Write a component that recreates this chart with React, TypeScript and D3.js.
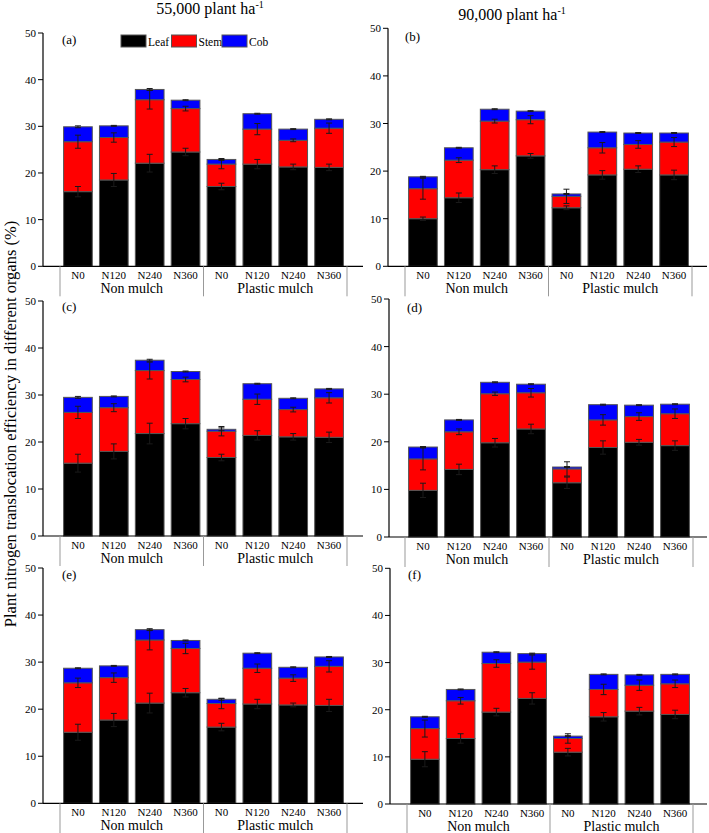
import React from "react";
import * as d3 from "d3";

// ---------- data ----------
const categories = ["N0", "N120", "N240", "N360", "N0", "N120", "N240", "N360"];
const groups = ["Non mulch", "Plastic mulch"];
const seriesNames = ["Leaf", "Stem", "Cob"];
const yTicks = [0, 10, 20, 30, 40, 50];
const panelLabels = ["(a)", "(b)", "(c)", "(d)", "(e)", "(f)"];
const columnTitles = ["55,000 plant ha", "90,000 plant ha"];

// (a) 55,000 – top row
const leafA = [16.0, 18.5, 22.1, 24.5, 17.1, 21.9, 21.3, 21.2];
const stemA = [10.7, 9.1, 13.6, 9.3, 4.8, 7.5, 5.7, 8.4];
const cobA = [3.2, 2.5, 2.2, 1.8, 1.0, 3.3, 2.4, 1.9];
const leafErrA = [1.1, 1.4, 1.9, 0.8, 0.7, 1.0, 0.6, 0.7];
const stemErrA = [1.4, 1.0, 2.0, 0.5, 1.0, 1.2, 0.3, 1.1];
const cobErrA = [0.2, 0.1, 0.2, 0.1, 0.2, 0.1, 0.1, 0.1];

// (b) 90,000 – top row
const leafB = [10.0, 14.4, 20.3, 23.2, 12.3, 19.2, 20.4, 19.2];
const stemB = [6.3, 7.9, 10.2, 7.6, 2.4, 5.7, 5.2, 6.9];
const cobB = [2.5, 2.6, 2.5, 1.8, 0.5, 3.3, 2.4, 1.9];
const leafErrB = [0.35, 1.0, 0.8, 0.5, 0.4, 0.9, 0.7, 1.0];
const stemErrB = [2.2, 0.5, 0.4, 0.85, 1.5, 1.1, 0.8, 0.95];
const cobErrB = [0.1, 0.1, 0.1, 0.1, 0.1, 0.1, 0.1, 0.1];

// (c)
const leafC = [15.5, 18.0, 21.8, 23.9, 16.7, 21.4, 21.1, 21.0];
const stemC = [10.8, 9.3, 13.4, 9.4, 5.6, 7.7, 5.8, 8.4];
const cobC = [3.2, 2.4, 2.2, 1.7, 0.4, 3.3, 2.4, 1.9];
const leafErrC = [1.9, 1.6, 2.2, 1.1, 0.7, 1.0, 0.7, 1.1];
const stemErrC = [1.3, 0.85, 1.8, 0.5, 1.0, 1.1, 0.5, 1.1];
const cobErrC = [0.2, 0.1, 0.2, 0.1, 0.3, 0.1, 0.1, 0.1];

// (d)
const leafD = [9.8, 14.2, 19.8, 22.7, 11.4, 18.8, 19.9, 19.2];
const stemD = [6.6, 7.9, 10.3, 7.6, 2.9, 5.8, 5.4, 6.7];
const cobD = [2.5, 2.5, 2.4, 1.8, 0.4, 3.2, 2.4, 2.0];
const leafErrD = [1.5, 1.1, 0.9, 1.0, 1.2, 1.4, 0.6, 1.0];
const stemErrD = [2.3, 0.6, 0.35, 0.9, 1.5, 1.1, 0.8, 1.0];
const cobErrD = [0.1, 0.1, 0.1, 0.1, 0.1, 0.1, 0.1, 0.1];

// (e)
const leafE = [15.1, 17.7, 21.3, 23.5, 16.2, 21.1, 20.9, 20.8];
const stemE = [10.5, 9.0, 13.4, 9.4, 5.0, 7.6, 5.7, 8.3];
const cobE = [3.1, 2.5, 2.2, 1.7, 0.9, 3.2, 2.3, 2.0];
const leafErrE = [1.7, 1.4, 2.1, 0.9, 0.8, 1.0, 0.4, 1.3];
const stemErrE = [1.0, 1.0, 2.1, 1.1, 1.1, 0.9, 0.7, 1.2];
const cobErrE = [0.1, 0.1, 0.2, 0.1, 0.2, 0.1, 0.1, 0.1];

// (f)
const leafF = [9.5, 13.9, 19.5, 22.4, 11.0, 18.5, 19.7, 19.0];
const stemF = [6.5, 8.0, 10.3, 7.7, 2.9, 5.8, 5.5, 6.5];
const cobF = [2.5, 2.4, 2.4, 1.8, 0.5, 3.2, 2.2, 2.0];
const leafErrF = [1.6, 1.0, 0.8, 1.2, 0.8, 0.9, 0.8, 0.9];
const stemErrF = [1.8, 0.7, 0.8, 1.5, 1.0, 1.1, 1.1, 0.8];
const cobErrF = [0.1, 0.1, 0.1, 0.1, 0.1, 0.1, 0.1, 0.1];

const panelValues = [
  { values: [leafA, stemA, cobA], errors: [leafErrA, stemErrA, cobErrA] },
  { values: [leafB, stemB, cobB], errors: [leafErrB, stemErrB, cobErrB] },
  { values: [leafC, stemC, cobC], errors: [leafErrC, stemErrC, cobErrC] },
  { values: [leafD, stemD, cobD], errors: [leafErrD, stemErrD, cobErrD] },
  { values: [leafE, stemE, cobE], errors: [leafErrE, stemErrE, cobErrE] },
  { values: [leafF, stemF, cobF], errors: [leafErrF, stemErrF, cobErrF] },
];

// ---------- layout & style ----------
const W = 709;
const H = 833;
const FONT = "'Liberation Serif', 'Times New Roman', serif";
const colors = ["#000000", "#ff0000", "#0000ff"];

const layouts = [
  { axisX: 43, yTop: 33, y0: 266.3, bandL: 60, bandR: 347, axisEnd: 363, lx: 62, ly: 44 },
  { axisX: 388, yTop: 28.3, y0: 266.3, bandL: 405, bandR: 692, axisEnd: 707, lx: 405, ly: 41 },
  { axisX: 43, yTop: 301, y0: 536, bandL: 60, bandR: 347, axisEnd: 363, lx: 62, ly: 311 },
  { axisX: 389, yTop: 299, y0: 537, bandL: 405, bandR: 693, axisEnd: 707, lx: 407, ly: 312 },
  { axisX: 43, yTop: 568, y0: 803.3, bandL: 60, bandR: 347, axisEnd: 363, lx: 62, ly: 579 },
  { axisX: 390, yTop: 568.3, y0: 804, bandL: 407, bandR: 693, axisEnd: 707, lx: 408, ly: 579 },
];

function Panel({ idx }: { idx: number }) {
  const L = layouts[idx];
  const P = panelValues[idx];
  const y = d3.scaleLinear().domain([0, 50]).range([L.y0, L.yTop]);
  const x = d3
    .scaleBand<number>()
    .domain(d3.range(categories.length))
    .range([L.bandL, L.bandR])
    .paddingInner(0.2)
    .paddingOuter(0.1);

  const rows = categories.map((_, i) => {
    const r: any = { i };
    seriesNames.forEach((s, k) => (r[s] = P.values[k][i]));
    return r;
  });
  const stacked = d3.stack().keys(seriesNames)(rows);
  const half = (L.bandR - L.bandL) / 2;
  const sepXs = [L.bandL, L.bandL + half, L.bandR];

  return (
    <g>
      {stacked.map((layer, k) => (
        <g key={k}>
          {layer.map((d, i) => (
            <rect
              key={i}
              x={x(i)}
              width={x.bandwidth()}
              y={y(d[1])}
              height={y(d[0]) - y(d[1])}
              fill={colors[k]}
              stroke="#555"
              strokeWidth={1}
            />
          ))}
        </g>
      ))}
      {stacked.map((layer, k) => (
        <g key={"e" + k} stroke="#1a1a1a" strokeWidth={1}>
          {layer.map((d, i) => {
            const cx = (x(i) as number) + x.bandwidth() / 2;
            const e = P.errors[k][i];
            const t = y(d[1] + e);
            const b = y(d[1] - e);
            return (
              <g key={i}>
                <line x1={cx} x2={cx} y1={t} y2={b} />
                <line x1={cx - 3} x2={cx + 3} y1={t} y2={t} />
                <line x1={cx - 3} x2={cx + 3} y1={b} y2={b} />
              </g>
            );
          })}
        </g>
      ))}
      <line x1={L.axisX} x2={L.axisX} y1={L.y0} y2={L.yTop} stroke="#000" strokeWidth={1.2} />
      {yTicks.map((t) => (
        <g key={t}>
          <line x1={L.axisX - 5} x2={L.axisX} y1={y(t)} y2={y(t)} stroke="#000" strokeWidth={1} />
          <text
            x={L.axisX - 7}
            y={y(t) + 4}
            textAnchor="end"
            fontSize={11}
            fontFamily={FONT}
            fill="#000"
          >
            {t}
          </text>
        </g>
      ))}
      <line x1={L.axisX} x2={L.axisEnd} y1={L.y0} y2={L.y0} stroke="#000" strokeWidth={1.2} />
      {sepXs.map((sx, i) => (
        <line key={i} x1={sx} x2={sx} y1={L.y0} y2={L.y0 + 30} stroke="#999" strokeWidth={1} />
      ))}
      {categories.map((c, i) => (
        <text
          key={i}
          x={(x(i) as number) + x.bandwidth() / 2}
          y={L.y0 + 13}
          textAnchor="middle"
          fontSize={11}
          fontFamily={FONT}
          fill="#000"
        >
          {c}
        </text>
      ))}
      {groups.map((g, i) => (
        <text
          key={g}
          x={L.bandL + half * i + half / 2}
          y={L.y0 + 27}
          textAnchor="middle"
          fontSize={14}
          fontFamily={FONT}
          fill="#000"
        >
          {g}
        </text>
      ))}
      <text x={L.lx} y={L.ly} fontSize={13} fontFamily={FONT} fill="#000">
        {panelLabels[idx]}
      </text>
      {idx === 0 &&
        seriesNames.map((s, k) => (
          <g key={s} transform={`translate(${121 + k * 50.5},35)`}>
            <rect width={25} height={12} fill={colors[k]} stroke="#555" strokeWidth={1} />
            <text x={27} y={10.5} fontSize={11.5} fontFamily={FONT} fill="#000">
              {s}
            </text>
          </g>
        ))}
    </g>
  );
}

export default function App() {
  return (
    <svg
      width={W}
      height={H}
      style={{ position: "absolute", left: 0, top: 0, background: "#fff" }}
    >
      <rect width={W} height={H} fill="#fff" />
      <text x={210} y={14} textAnchor="middle" fontSize={16} fontFamily={FONT} fill="#000">
        {columnTitles[0]}
        <tspan dy={-6} fontSize={10}>-1</tspan>
      </text>
      <text x={512} y={20} textAnchor="middle" fontSize={16} fontFamily={FONT} fill="#000">
        {columnTitles[1]}
        <tspan dy={-6} fontSize={10}>-1</tspan>
      </text>
      <text
        transform="translate(16,424) rotate(-90)"
        textAnchor="middle"
        fontSize={16.5}
        fontFamily={FONT}
        fill="#000"
      >
        Plant nitrogen translocation efficiency in different organs (%)
      </text>
      {layouts.map((_, i) => (
        <Panel key={i} idx={i} />
      ))}
    </svg>
  );
}
